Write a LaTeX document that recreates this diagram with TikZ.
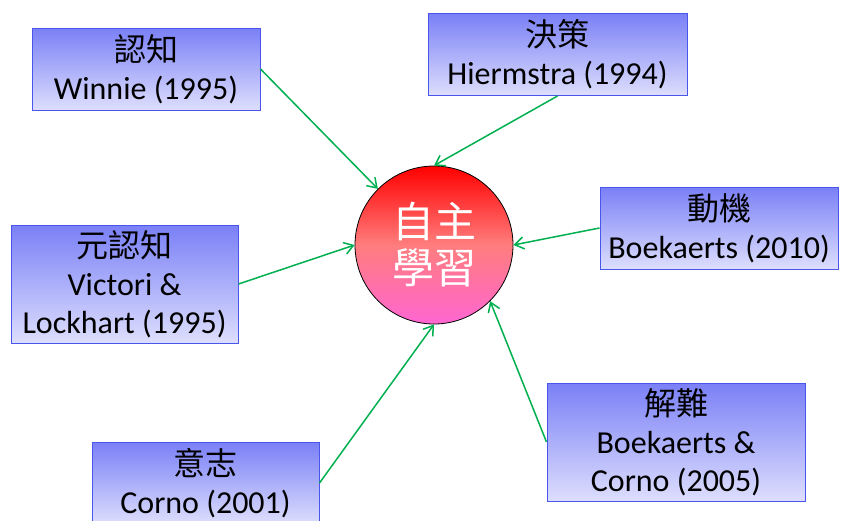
\documentclass[tikz,border=0pt]{standalone}
\usepackage{fontspec}
\setmainfont{Carlito}
\newfontfamily\cjk{Noto Sans CJK TC}
\usetikzlibrary{arrows.meta,positioning}
\definecolor{boxtop}{RGB}{122,128,246}
\definecolor{boxbot}{RGB}{221,222,253}
\definecolor{boxline}{RGB}{72,86,236}
\definecolor{arrgreen}{RGB}{0,176,80}
\definecolor{ctop}{RGB}{255,0,0}
\definecolor{cmid}{RGB}{255,125,125}
\definecolor{cbot}{RGB}{255,102,210}

\begin{document}
\begin{tikzpicture}[x=1pt,y=-1pt]
\fontsize{32}{38}\selectfont
\tikzstyle{box}=[draw=boxline, line width=1pt, top color=boxtop, bottom color=boxbot, align=center, inner sep=0pt, minimum height=82pt]
\tikzstyle{link}=[draw=arrgreen, line width=1.5pt, -{Straight Barb[length=9pt,width=12pt]}]
\useasboundingbox (0,0) rectangle (851,520);
% center
\node[circle, draw=black, line width=0.8pt, minimum size=158pt, inner sep=0pt,
      top color=ctop, bottom color=cbot, middle color=cmid, text=white, align=center,
      font=\cjk\fontsize{42}{46}\selectfont] (core) at (434,245) {自主\\學習};
% boxes
\node[box, minimum width=228pt] (cog) at (146,69) {{\cjk 認知}\\Winnie (1995)};
\node[box, minimum width=259pt] (dec) at (557.5,54.5) {{\cjk 決策}\\Hiermstra (1994)};
\node[box, minimum width=227pt, minimum height=118pt] (meta) at (124.5,284) {{\cjk 元認知}\\Victori \&\\Lockhart (1995)};
\node[box, minimum width=238pt] (mot) at (719,228) {{\cjk 動機}\\Boekaerts (2010)};
\node[box, minimum width=227pt] (vol) at (205.5,483) {{\cjk 意志}\\Corno (2001)};
\node[box, minimum width=258pt, minimum height=118pt] (sol) at (676,442) {{\cjk 解難}\\Boekaerts \&\\Corno (2005)};
% links
\foreach \from/\to in {cog.east/north west, dec.south/north, meta.east/west, mot.west/east, vol.east/south, sol.west/south east}
    \draw[link] (\from) -- (core.\to);
\end{tikzpicture}
\end{document}
